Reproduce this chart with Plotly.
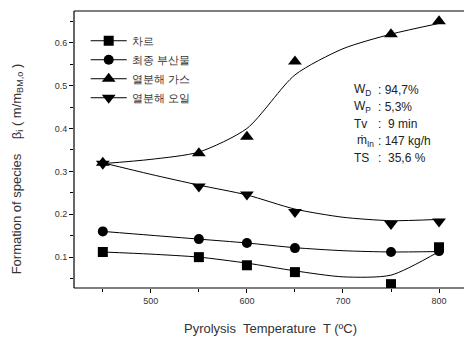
import plotly.graph_objects as go

temps = [450, 550, 600, 650, 750, 800]
char = [0.112, 0.100, 0.081, 0.065, 0.037, 0.123]
byproduct = [0.160, 0.142, 0.133, 0.121, 0.112, 0.114]
gas = [0.320, 0.342, 0.381, 0.556, 0.620, 0.650]
oil = [0.318, 0.265, 0.246, 0.205, 0.177, 0.183]

# fitted curves
curve_t = [450, 500, 550, 600, 650, 700, 750, 800]
char_curve = [0.112, 0.107, 0.100, 0.086, 0.068, 0.054, 0.058, 0.113]
byproduct_curve = [0.160, 0.151, 0.142, 0.133, 0.122, 0.115, 0.112, 0.113]
gas_curve = [0.318, 0.328, 0.345, 0.400, 0.525, 0.586, 0.620, 0.645]
oil_curve = [0.320, 0.293, 0.268, 0.245, 0.212, 0.193, 0.185, 0.188]

names = ["차르", "최종 부산물", "열분해 가스", "열분해 오일"]
symbols = ["square", "circle", "triangle-up", "triangle-down"]
sizes = [10, 10, 12, 12]
series = [char, byproduct, gas, oil]
curves = [char_curve, byproduct_curve, gas_curve, oil_curve]

fig = go.Figure()
for nm, sym, sz, ys, cv in zip(names, symbols, sizes, series, curves):
    fig.add_trace(go.Scatter(x=curve_t, y=cv, mode="lines", line=dict(color="black", width=1, shape="spline", smoothing=0.7),
                             showlegend=False, hoverinfo="skip"))
    fig.add_trace(go.Scatter(x=temps, y=ys, mode="markers", marker=dict(symbol=sym, size=sz, color="black"),
                             showlegend=False))
    fig.add_trace(go.Scatter(x=[None], y=[None], mode="lines+markers", name=nm,
                             line=dict(color="black", width=1), marker=dict(symbol=sym, size=sz, color="black")))

fig.update_layout(
    width=464, height=340,
    margin=dict(l=74, r=0, t=11, b=52),
    paper_bgcolor="white", plot_bgcolor="white",
    font=dict(family="Liberation Sans, Arial, sans-serif", color="#222"),
    legend=dict(x=0.03, y=0.945, xanchor="left", yanchor="top", bgcolor="rgba(0,0,0,0)",
                font=dict(size=11, color="#333"), tracegroupgap=0, itemwidth=36),
    xaxis=dict(range=[420, 826], showline=False,
               showgrid=False, zeroline=False, ticks="outside", ticklen=4, tickcolor="black",
               tickvals=[500, 600, 700, 800], tickfont=dict(size=9, color="#333"),
               minor=dict(tickvals=[450, 550, 650, 750], ticks="outside", ticklen=3, tickcolor="black")),
    yaxis=dict(range=[0.028, 0.674], showline=False,
               showgrid=False, zeroline=False, ticks="outside", ticklen=4, tickcolor="black",
               tickvals=[0.1, 0.2, 0.3, 0.4, 0.5, 0.6], tickformat=".1f", tickfont=dict(size=9, color="#333"),
               minor=dict(tickvals=[0.05, 0.15, 0.25, 0.35, 0.45, 0.55, 0.65], ticks="outside", ticklen=3, tickcolor="black")),
)

# plot frame: left, bottom, top (no right edge visible)
frame = dict(type="line", xref="paper", yref="paper", line=dict(color="black", width=1.2))
fig.add_shape(**frame, x0=0, x1=0, y0=0, y1=1)
fig.add_shape(**frame, x0=0, x1=1, y0=0, y1=0)
fig.add_shape(**frame, x0=0, x1=1, y0=1, y1=1)

fig.add_annotation(xref="paper", yref="paper", x=-0.145, y=0.43, xanchor="center", yanchor="middle",
                   text="Formation of species    β<sub>i</sub> ( m/m<sub>BM,o</sub> )", textangle=-90,
                   showarrow=False, font=dict(size=13, color="#333"))
fig.add_annotation(xref="paper", yref="paper", x=0.503, y=-0.145, xanchor="center", yanchor="middle",
                   text="Pyrolysis  Temperature  T (ºC)", showarrow=False, font=dict(size=13, color="#333"))

labels = ["W<sub>D</sub>", "W<sub>P</sub>", "Tv", "ṁ<sub>In</sub>", "TS"]
label_x = [352, 352, 352, 355, 352]
values = [": 94,7%", ": 5,3%", ":  9 min", ": 147 kg/h", ":  35,6 %"]
ys_px = [90, 107, 124, 141, 158]
for lb, lx, vl, yp in zip(labels, label_x, values, ys_px):
    yy = (288 - yp) / 277
    fig.add_annotation(xref="paper", yref="paper", x=(lx - 74) / 390, y=yy, xanchor="left", yanchor="middle",
                       text=lb, showarrow=False, font=dict(size=12, color="#222"))
    fig.add_annotation(xref="paper", yref="paper", x=(376 - 74) / 390, y=yy, xanchor="left", yanchor="middle",
                       text=vl, showarrow=False, font=dict(size=12, color="#222"))

fig.write_html("out.html")
